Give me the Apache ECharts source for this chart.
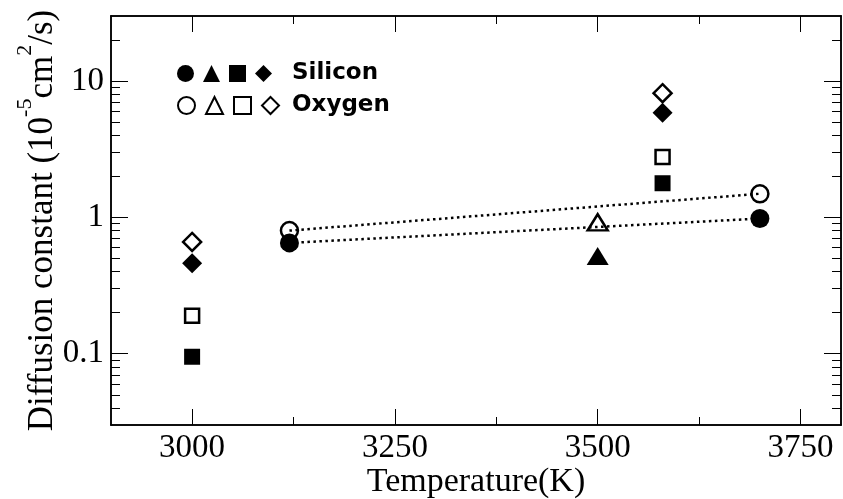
<!DOCTYPE html>
<html>
<head>
<meta charset="utf-8">
<script src="https://cdn.jsdelivr.net/npm/echarts@6/dist/echarts.min.js"></script>
<style>
html, body { margin: 0; padding: 0; background: #fff; }
#chart { width: 843px; height: 499px; }
</style>
</head>
<body>
<div id="chart"></div>
<script>
// values (x = temperature in K, y = diffusion constant)
var siCircle = [[3120, 0.65], [3700, 0.98]];
var oCircle = [[3120, 0.80], [3700, 1.49]];
var siTriangle = [[3500, 0.52]];
var oTriangle = [[3500, 0.92]];
var siSquare = [[3000, 0.095], [3580, 1.78]];
var oSquare = [[3000, 0.19], [3580, 2.77]];
var siDiamond = [[3000, 0.46], [3580, 5.85]];
var oDiamond = [[3000, 0.66], [3580, 8.14]];

var xMajor = [3000, 3250, 3500, 3750];
var xMinor = [3125, 3375, 3625];
var yMajor = [0.1, 1, 10];
var yMinor = [0.04, 0.05, 0.06, 0.07, 0.08, 0.09, 0.2, 0.3, 0.4, 0.5, 0.6, 0.7, 0.8, 0.9,
              2, 3, 4, 5, 6, 7, 8, 9, 20];

var serif = '"Liberation Serif", "DejaVu Serif", serif';
var hollow = 'rgba(0,0,0,0)';

function makeX(position, ticks, len, showLabel) {
  return {
    type: 'value', position: position, min: 2900, max: 3800,
    name: showLabel ? 'Temperature(K)' : '',
    nameLocation: 'middle', nameGap: 40, nameMoveOverlap: false,
    nameTextStyle: {color: '#000', fontFamily: serif, fontSize: 34, lineHeight: 34},
    axisLine: {show: true, lineStyle: {color: '#000', width: 1.5}},
    axisTick: {show: true, inside: true, length: len, customValues: ticks, lineStyle: {color: '#000', width: 1}},
    axisLabel: {show: showLabel, customValues: ticks, margin: 7, color: '#000',
                fontFamily: serif, fontSize: 33, lineHeight: 33,
                formatter: function (v) { return String(v); }},
    splitLine: {show: false}
  };
}

function makeY(position, ticks, len, showLabel) {
  return {
    type: 'log', logBase: 10, position: position, min: 0.03, max: 30,
    name: showLabel ? '{a|Diffusion constant (10}{s|-5}{a|cm}{s|2}{a|/s)}' : '',
    nameLocation: 'middle', nameGap: 51, nameMoveOverlap: false,
    nameTextStyle: {
      rich: {
        a: {color: '#000', fontFamily: serif, fontSize: 35, lineHeight: 35, verticalAlign: 'bottom'},
        s: {color: '#000', fontFamily: serif, fontSize: 22, lineHeight: 22, verticalAlign: 'bottom', padding: [0, 0, 24, 0]}
      }
    },
    axisLine: {show: true, lineStyle: {color: '#000', width: 1.5}},
    axisTick: {show: true, inside: true, length: len, customValues: ticks, lineStyle: {color: '#000', width: 1}},
    axisLabel: {show: showLabel, customValues: ticks, margin: 7, color: '#000',
                fontFamily: serif, fontSize: 33,
                formatter: function (v) { return v < 1 ? v.toFixed(1) : v.toFixed(0); }},
    splitLine: {show: false}
  };
}

function points(name, data, symbol, size, filled) {
  return {
    name: name, type: 'scatter', data: data,
    symbol: symbol, symbolSize: size,
    itemStyle: filled
      ? {color: '#000', borderWidth: 0, opacity: 1}
      : {color: hollow, borderColor: '#000', borderWidth: 2.5, opacity: 1},
    emphasis: {disabled: true}
  };
}

function fit(data) {
  return {
    type: 'line', data: data, showSymbol: false, silent: true,
    lineStyle: {color: '#000', width: 2.5, type: [2.5, 3.5]}
  };
}

function legendRow(names, label, top, filled, textPad) {
  return {
    left: 177, top: top, padding: 0, orient: 'horizontal',
    itemWidth: 17, itemHeight: 17, itemGap: 9, selectedMode: false,
    data: names.map(function (n) {
      return {name: n, itemStyle: filled ? {borderWidth: 0, opacity: 1} : {borderWidth: 2, borderColor: '#000', opacity: 1}};
    }),
    formatter: function (n) { return n === names[names.length - 1] ? label : ''; },
    textStyle: {color: '#000', fontFamily: '"DejaVu Sans", sans-serif', fontWeight: 'bold',
                fontSize: 23, padding: [0, 0, 0, textPad]}
  };
}

var siNames = ['Si circle', 'Si triangle', 'Si square', 'Si diamond'];
var oNames = ['O circle', 'O triangle', 'O square', 'O diamond'];

var chart = echarts.init(document.getElementById('chart'));
chart.setOption({
  animation: false,
  backgroundColor: '#fff',
  grid: {left: 111, right: 2, top: 16, bottom: 74, outerBoundsMode: 'none'},
  xAxis: [
    makeX('bottom', xMajor, 16, true),
    makeX('bottom', xMinor, 8, false),
    makeX('top', xMajor, 16, false),
    makeX('top', xMinor, 8, false)
  ],
  yAxis: [
    makeY('left', yMajor, 17, true),
    makeY('left', yMinor, 9, false),
    makeY('right', yMajor, 17, false),
    makeY('right', yMinor, 9, false)
  ],
  legend: [
    legendRow(siNames, 'Silicon', 62, true, 15),
    legendRow(oNames, 'Oxygen', 94, false, 8)
  ],
  series: [
    fit(oCircle),
    fit(siCircle),
    points('O circle', oCircle, 'circle', 17, false),
    points('Si circle', siCircle, 'circle', 19, true),
    points('Si triangle', siTriangle, 'triangle', [22, 18], true),
    points('O triangle', oTriangle, 'triangle', [20, 16], false),
    points('Si square', siSquare, 'rect', 16, true),
    points('O square', oSquare, 'rect', 14, false),
    points('Si diamond', siDiamond, 'diamond', 20, true),
    points('O diamond', oDiamond, 'diamond', 18, false)
  ]
});
</script>
</body>
</html>
